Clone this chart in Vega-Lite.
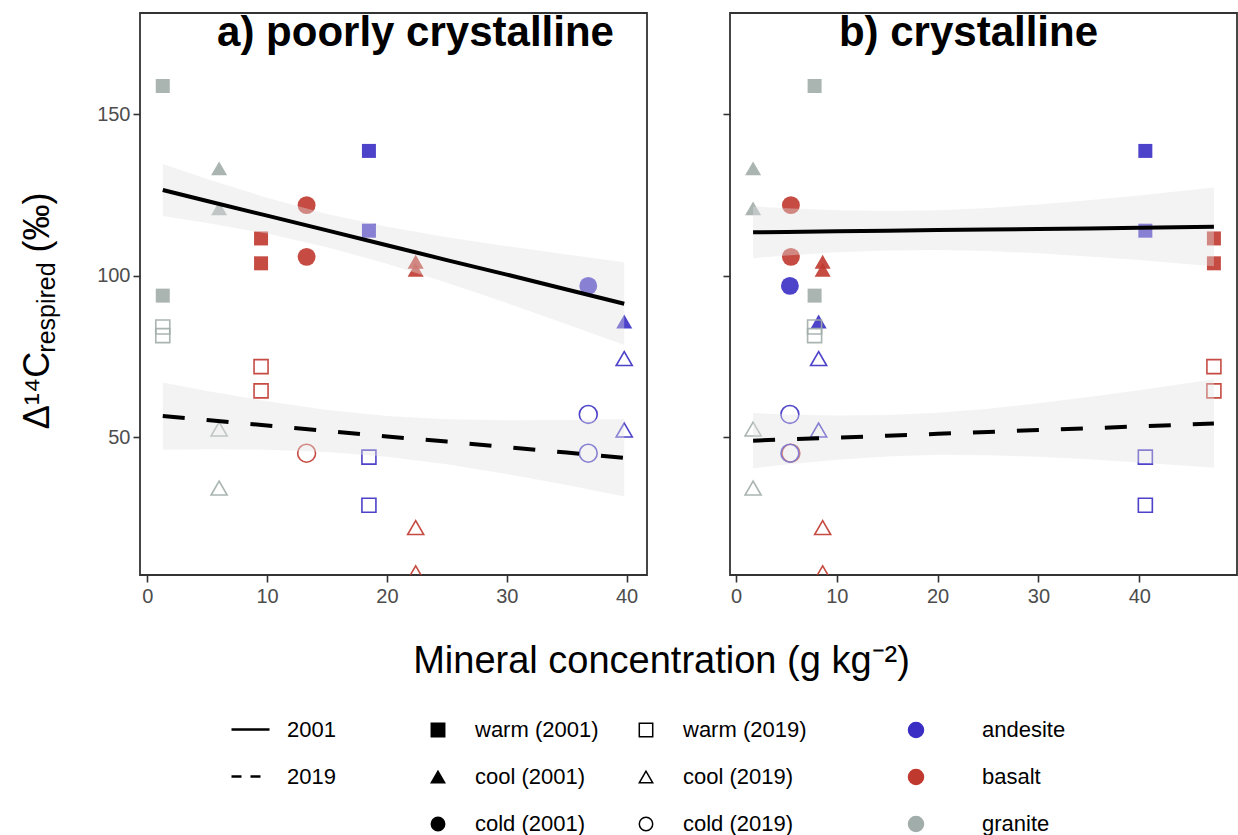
{
  "$schema": "https://vega.github.io/schema/vega-lite/v6.json",
  "padding": {"left": 18, "top": 10, "right": 1, "bottom": 0},
  "background": "white",
  "datasets": {
    "pts": [
      {"parent": "granite", "climate": "warm", "year": "2001", "sy": "warm (2001)", "pc": 1.3, "cr": 7.8, "d14c": 158.7},
      {"parent": "granite", "climate": "warm", "year": "2001", "sy": "warm (2001)", "pc": 1.3, "cr": 7.8, "d14c": 93.8},
      {"parent": "granite", "climate": "cool", "year": "2001", "sy": "cool (2001)", "pc": 6.0, "cr": 1.7, "d14c": 133.2},
      {"parent": "granite", "climate": "cool", "year": "2001", "sy": "cool (2001)", "pc": 6.0, "cr": 1.7, "d14c": 120.8},
      {"parent": "basalt", "climate": "warm", "year": "2001", "sy": "warm (2001)", "pc": 9.5, "cr": 47.4, "d14c": 111.5},
      {"parent": "basalt", "climate": "warm", "year": "2001", "sy": "warm (2001)", "pc": 9.5, "cr": 47.4, "d14c": 103.8},
      {"parent": "basalt", "climate": "cold", "year": "2001", "sy": "cold (2001)", "pc": 13.3, "cr": 5.45, "d14c": 121.8},
      {"parent": "basalt", "climate": "cold", "year": "2001", "sy": "cold (2001)", "pc": 13.3, "cr": 5.45, "d14c": 105.8},
      {"parent": "andesite", "climate": "warm", "year": "2001", "sy": "warm (2001)", "pc": 18.5, "cr": 40.6, "d14c": 138.6},
      {"parent": "andesite", "climate": "warm", "year": "2001", "sy": "warm (2001)", "pc": 18.5, "cr": 40.6, "d14c": 113.9},
      {"parent": "basalt", "climate": "cool", "year": "2001", "sy": "cool (2001)", "pc": 22.4, "cr": 8.6, "d14c": 104.3},
      {"parent": "basalt", "climate": "cool", "year": "2001", "sy": "cool (2001)", "pc": 22.4, "cr": 8.6, "d14c": 101.8},
      {"parent": "andesite", "climate": "cold", "year": "2001", "sy": "cold (2001)", "pc": 36.8, "cr": 5.35, "d14c": 96.8},
      {"parent": "andesite", "climate": "cool", "year": "2001", "sy": "cool (2001)", "pc": 39.8, "cr": 8.2, "d14c": 85.8},
      {"parent": "granite", "climate": "warm", "year": "2019", "sy": "warm (2019)", "pc": 1.3, "cr": 7.8, "d14c": 84.1},
      {"parent": "granite", "climate": "warm", "year": "2019", "sy": "warm (2019)", "pc": 1.3, "cr": 7.8, "d14c": 81.4},
      {"parent": "granite", "climate": "cool", "year": "2019", "sy": "cool (2019)", "pc": 6.0, "cr": 1.7, "d14c": 52.5},
      {"parent": "granite", "climate": "cool", "year": "2019", "sy": "cool (2019)", "pc": 6.0, "cr": 1.7, "d14c": 34.2},
      {"parent": "basalt", "climate": "warm", "year": "2019", "sy": "warm (2019)", "pc": 9.5, "cr": 47.4, "d14c": 71.8},
      {"parent": "basalt", "climate": "warm", "year": "2019", "sy": "warm (2019)", "pc": 9.5, "cr": 47.4, "d14c": 64.3},
      {"parent": "basalt", "climate": "cold", "year": "2019", "sy": "cold (2019)", "pc": 13.3, "cr": 5.45, "d14c": 45.0},
      {"parent": "andesite", "climate": "warm", "year": "2019", "sy": "warm (2019)", "pc": 18.5, "cr": 40.6, "d14c": 43.8},
      {"parent": "andesite", "climate": "warm", "year": "2019", "sy": "warm (2019)", "pc": 18.5, "cr": 40.6, "d14c": 28.9},
      {"parent": "basalt", "climate": "cool", "year": "2019", "sy": "cool (2019)", "pc": 22.4, "cr": 8.6, "d14c": 22.0},
      {"parent": "basalt", "climate": "cool", "year": "2019", "sy": "cool (2019)", "pc": 22.4, "cr": 8.6, "d14c": 8.0},
      {"parent": "andesite", "climate": "cold", "year": "2019", "sy": "cold (2019)", "pc": 36.8, "cr": 5.35, "d14c": 57.0},
      {"parent": "andesite", "climate": "cold", "year": "2019", "sy": "cold (2019)", "pc": 36.8, "cr": 5.35, "d14c": 45.0},
      {"parent": "andesite", "climate": "cool", "year": "2019", "sy": "cool (2019)", "pc": 39.8, "cr": 8.2, "d14c": 74.3},
      {"parent": "andesite", "climate": "cool", "year": "2019", "sy": "cool (2019)", "pc": 39.8, "cr": 8.2, "d14c": 52.2}
    ],
    "fits": [
      {"panel": "a", "year": "2001", "x": 1.3, "fit": 126.5, "lo": 118.45, "hi": 134.55},
      {"panel": "a", "year": "2001", "x": 5, "fit": 123.1, "lo": 116.3, "hi": 129.9},
      {"panel": "a", "year": "2001", "x": 10, "fit": 118.55, "lo": 113.0, "hi": 124.1},
      {"panel": "a", "year": "2001", "x": 15, "fit": 114.0, "lo": 108.8, "hi": 119.1},
      {"panel": "a", "year": "2001", "x": 20, "fit": 109.4, "lo": 103.7, "hi": 115.1},
      {"panel": "a", "year": "2001", "x": 25, "fit": 104.8, "lo": 97.8, "hi": 111.9},
      {"panel": "a", "year": "2001", "x": 30, "fit": 100.3, "lo": 91.5, "hi": 109.1},
      {"panel": "a", "year": "2001", "x": 35, "fit": 95.7, "lo": 84.9, "hi": 106.5},
      {"panel": "a", "year": "2001", "x": 39.8, "fit": 91.3, "lo": 78.5, "hi": 104.1},
      {"panel": "a", "year": "2019", "x": 1.3, "fit": 56.5, "lo": 46.1, "hi": 66.9},
      {"panel": "a", "year": "2019", "x": 5, "fit": 55.3, "lo": 46.2, "hi": 64.3},
      {"panel": "a", "year": "2019", "x": 10, "fit": 53.6, "lo": 46.1, "hi": 61.1},
      {"panel": "a", "year": "2019", "x": 15, "fit": 51.9, "lo": 45.4, "hi": 58.4},
      {"panel": "a", "year": "2019", "x": 20, "fit": 50.2, "lo": 43.9, "hi": 56.5},
      {"panel": "a", "year": "2019", "x": 25, "fit": 48.6, "lo": 41.6, "hi": 55.5},
      {"panel": "a", "year": "2019", "x": 30, "fit": 46.9, "lo": 38.6, "hi": 55.2},
      {"panel": "a", "year": "2019", "x": 35, "fit": 45.2, "lo": 35.2, "hi": 55.3},
      {"panel": "a", "year": "2019", "x": 39.8, "fit": 43.6, "lo": 31.6, "hi": 55.6},
      {"panel": "b", "year": "2001", "x": 1.7, "fit": 113.4, "lo": 105.4, "hi": 121.4},
      {"panel": "b", "year": "2001", "x": 5, "fit": 113.5, "lo": 106.2, "hi": 120.85},
      {"panel": "b", "year": "2001", "x": 10, "fit": 113.7, "lo": 107.2, "hi": 120.2},
      {"panel": "b", "year": "2001", "x": 15, "fit": 113.9, "lo": 107.8, "hi": 120.0},
      {"panel": "b", "year": "2001", "x": 20, "fit": 114.1, "lo": 107.9, "hi": 120.2},
      {"panel": "b", "year": "2001", "x": 25, "fit": 114.3, "lo": 107.6, "hi": 120.9},
      {"panel": "b", "year": "2001", "x": 30, "fit": 114.4, "lo": 106.9, "hi": 122.0},
      {"panel": "b", "year": "2001", "x": 35, "fit": 114.6, "lo": 105.9, "hi": 123.3},
      {"panel": "b", "year": "2001", "x": 40, "fit": 114.8, "lo": 104.8, "hi": 124.8},
      {"panel": "b", "year": "2001", "x": 47.4, "fit": 115.1, "lo": 102.9, "hi": 127.3},
      {"panel": "b", "year": "2019", "x": 1.7, "fit": 48.9, "lo": 40.35, "hi": 57.45},
      {"panel": "b", "year": "2019", "x": 5, "fit": 49.3, "lo": 41.5, "hi": 57.0},
      {"panel": "b", "year": "2019", "x": 10, "fit": 49.85, "lo": 43.0, "hi": 56.7},
      {"panel": "b", "year": "2019", "x": 15, "fit": 50.4, "lo": 44.0, "hi": 56.8},
      {"panel": "b", "year": "2019", "x": 20, "fit": 51.0, "lo": 44.5, "hi": 57.5},
      {"panel": "b", "year": "2019", "x": 25, "fit": 51.6, "lo": 44.4, "hi": 58.8},
      {"panel": "b", "year": "2019", "x": 30, "fit": 52.2, "lo": 43.9, "hi": 60.45},
      {"panel": "b", "year": "2019", "x": 35, "fit": 52.75, "lo": 43.1, "hi": 62.4},
      {"panel": "b", "year": "2019", "x": 40, "fit": 53.3, "lo": 42.15, "hi": 64.5},
      {"panel": "b", "year": "2019", "x": 47.4, "fit": 54.2, "lo": 40.5, "hi": 67.9}
    ]
  },
  "hconcat": [
    {
      "width": 507,
      "height": 562,
      "resolve": {"axis": {"x": "independent", "y": "independent"}},
      "layer": [
        {
          "data": {"name": "pts"},
          "mark": {"type": "point", "filled": true, "opacity": 0, "strokeWidth": 1.5},
          "encoding": {
            "x": {"field": "pc", "type": "quantitative", "axis": null},
            "y": {"field": "d14c", "type": "quantitative", "axis": null},
            "shape": {"field": "sy", "type": "nominal",
                      "scale": {"domain": ["warm (2001)", "cool (2001)", "cold (2001)", "warm (2019)", "cool (2019)", "cold (2019)"], "range": ["square", "triangle-up", "circle", "square", "triangle-up", "circle"]},
                      "legend": {"orient": "none", "legendX": 287, "legendY": 706, "columns": 2, "title": null, "labelOffset": 26, "symbolSize": 180, "columnPadding": 36, "rowPadding": 25, "symbolOpacity": 1, "symbolStrokeWidth": 1.5}},
            "fill": {"field": "sy", "type": "nominal",
                     "scale": {"domain": ["warm (2001)", "cool (2001)", "cold (2001)", "warm (2019)", "cool (2019)", "cold (2019)"], "range": ["black", "black", "black", "white", "white", "white"]},
                     "legend": {"orient": "none", "legendX": 287, "legendY": 706, "columns": 2, "title": null, "labelOffset": 26, "symbolSize": 180, "columnPadding": 36, "rowPadding": 25, "symbolOpacity": 1, "symbolStrokeWidth": 1.5}},
            "stroke": {"field": "sy", "type": "nominal",
                       "scale": {"domain": ["warm (2001)", "cool (2001)", "cold (2001)", "warm (2019)", "cool (2019)", "cold (2019)"], "range": ["black", "black", "black", "black", "black", "black"]},
                       "legend": {"orient": "none", "legendX": 287, "legendY": 706, "columns": 2, "title": null, "labelOffset": 26, "symbolSize": 180, "columnPadding": 36, "rowPadding": 25, "symbolOpacity": 1, "symbolStrokeWidth": 1.5}}
          }
        },
        {
          "data": {"name": "pts"},
          "transform": [{"filter": "datum.year == '2001'"}],
          "mark": {"type": "point", "filled": true, "opacity": 0.9, "clip": true},
          "encoding": {
            "x": {"field": "pc", "type": "quantitative", "scale": {"domain": [-0.6, 41.7], "nice": false, "zero": false},
                  "axis": {"orient": "bottom", "values": [0, 10, 20, 30, 40], "title": "Mineral concentration (g kg⁻²)", "titleFontSize": 38, "titleX": 521, "titleY": 97, "titleBaseline": "alphabetic", "titleAlign": "center"}},
            "y": {"field": "d14c", "type": "quantitative", "scale": {"domain": [7.3, 181.3], "nice": false, "zero": false},
                  "axis": {"orient": "left", "values": [50, 100, 150], "title": "Δ¹⁴C", "titleX": -92, "titleY": 377, "titleAngle": 270, "titleBaseline": "alphabetic", "titleAlign": "center"}},
            "shape": {"field": "sy", "type": "nominal"},
            "color": {"field": "parent", "type": "nominal",
                      "scale": {"domain": ["andesite", "basalt", "granite"], "range": ["#3a2ec4", "#c0392f", "#a1adaa"]},
                      "legend": {"orient": "none", "legendX": 765, "legendY": 706, "title": null, "labelOffset": 55, "symbolSize": 225, "rowPadding": 25, "symbolOpacity": 1, "symbolType": "circle"}},
            "size": {"field": "climate", "type": "nominal", "scale": {"domain": ["warm", "cool", "cold"], "range": [196, 320, 180]}, "legend": null}
          }
        },
        {
          "data": {"name": "pts"},
          "transform": [{"filter": "datum.year == '2019'"}],
          "mark": {"type": "point", "filled": false, "opacity": 0.9, "strokeWidth": 1.6, "clip": true},
          "encoding": {
            "x": {"field": "pc", "type": "quantitative",
                  "axis": {"orient": "top", "labels": false, "ticks": false, "domain": false, "title": "a) poorly crystalline", "titleFontSize": 42, "titleFontWeight": "bold", "titleX": 275, "titleY": 32, "titleBaseline": "alphabetic", "titleAlign": "center"}},
            "y": {"field": "d14c", "type": "quantitative",
                  "axis": {"orient": "left", "labels": false, "ticks": false, "domain": false, "title": "respired", "titleFontSize": 25, "titleX": -86, "titleY": 294, "titleAngle": 270, "titleBaseline": "alphabetic", "titleAlign": "center"}},
            "shape": {"field": "sy", "type": "nominal"},
            "color": {"field": "parent", "type": "nominal"},
            "size": {"field": "climate", "type": "nominal", "legend": null}
          }
        },
        {
          "data": {"name": "fits"},
          "transform": [{"filter": "datum.panel == 'a'"}],
          "mark": {"type": "area", "color": "#e0e0e0", "opacity": 0.4},
          "encoding": {
            "x": {"field": "x", "type": "quantitative", "axis": null},
            "y": {"field": "lo", "type": "quantitative",
                  "axis": {"orient": "left", "labels": false, "ticks": false, "domain": false, "title": "(‰)", "titleX": -92, "titleY": 209, "titleAngle": 270, "titleBaseline": "alphabetic", "titleAlign": "center"}},
            "y2": {"field": "hi"},
            "detail": {"field": "year", "type": "nominal"}
          }
        },
        {
          "data": {"name": "fits"},
          "transform": [{"filter": "datum.panel == 'a' && datum.year == '2001'"}],
          "mark": {"type": "line", "color": "black", "strokeWidth": 4},
          "encoding": {
            "x": {"field": "x", "type": "quantitative", "axis": null},
            "y": {"field": "fit", "type": "quantitative", "axis": null}
          }
        },
        {
          "data": {"name": "fits"},
          "transform": [{"filter": "datum.panel == 'a' && datum.year == '2019'"}],
          "mark": {"type": "line", "color": "black", "strokeWidth": 4, "strokeDash": [22, 22]},
          "encoding": {
            "x": {"field": "x", "type": "quantitative", "axis": null},
            "y": {"field": "fit", "type": "quantitative", "axis": null}
          }
        },
        {
          "data": {"name": "fits"},
          "transform": [{"filter": "datum.panel == 'a'"}],
          "mark": {"type": "line", "color": "black", "strokeWidth": 2.5, "opacity": 0},
          "encoding": {
            "x": {"field": "x", "type": "quantitative", "axis": null},
            "y": {"field": "fit", "type": "quantitative", "axis": null},
            "strokeDash": {"field": "year", "type": "nominal",
                           "scale": {"domain": ["2001", "2019"], "range": [[1, 0], [10, 9]]},
                           "legend": {"orient": "none", "legendX": 90, "legendY": 696, "title": null, "labelOffset": 16, "symbolType": "stroke", "symbolSize": 1444, "symbolStrokeWidth": 2.5, "symbolStrokeColor": "black", "rowPadding": 15, "symbolOpacity": 1}}
          }
        }
      ]
    },
    {
      "width": 507,
      "height": 562,
      "resolve": {"axis": {"x": "independent", "y": "independent"}},
      "layer": [
        {
          "data": {"name": "pts"},
          "transform": [{"filter": "datum.year == '2001'"}],
          "mark": {"type": "point", "filled": true, "opacity": 0.9, "clip": true},
          "encoding": {
            "x": {"field": "cr", "type": "quantitative", "scale": {"domain": [-0.59, 49.69], "nice": false, "zero": false},
                  "axis": {"orient": "bottom", "values": [0, 10, 20, 30, 40], "title": null}},
            "y": {"field": "d14c", "type": "quantitative", "scale": {"domain": [7.3, 181.3], "nice": false, "zero": false},
                  "axis": {"orient": "left", "values": [50, 100, 150], "labels": false, "title": null}},
            "shape": {"field": "sy", "type": "nominal"},
            "color": {"field": "parent", "type": "nominal"},
            "size": {"field": "climate", "type": "nominal", "legend": null}
          }
        },
        {
          "data": {"name": "pts"},
          "transform": [{"filter": "datum.year == '2019'"}],
          "mark": {"type": "point", "filled": false, "opacity": 0.9, "strokeWidth": 1.6, "clip": true},
          "encoding": {
            "x": {"field": "cr", "type": "quantitative",
                  "axis": {"orient": "top", "labels": false, "ticks": false, "domain": false, "title": "b) crystalline", "titleFontSize": 42, "titleFontWeight": "bold", "titleX": 238, "titleY": 32, "titleBaseline": "alphabetic", "titleAlign": "center"}},
            "y": {"field": "d14c", "type": "quantitative", "axis": null},
            "shape": {"field": "sy", "type": "nominal"},
            "color": {"field": "parent", "type": "nominal"},
            "size": {"field": "climate", "type": "nominal", "legend": null}
          }
        },
        {
          "data": {"name": "fits"},
          "transform": [{"filter": "datum.panel == 'b'"}],
          "mark": {"type": "area", "color": "#e0e0e0", "opacity": 0.4},
          "encoding": {
            "x": {"field": "x", "type": "quantitative", "axis": null},
            "y": {"field": "lo", "type": "quantitative", "axis": null},
            "y2": {"field": "hi"},
            "detail": {"field": "year", "type": "nominal"}
          }
        },
        {
          "data": {"name": "fits"},
          "transform": [{"filter": "datum.panel == 'b' && datum.year == '2001'"}],
          "mark": {"type": "line", "color": "black", "strokeWidth": 4},
          "encoding": {
            "x": {"field": "x", "type": "quantitative", "axis": null},
            "y": {"field": "fit", "type": "quantitative", "axis": null}
          }
        },
        {
          "data": {"name": "fits"},
          "transform": [{"filter": "datum.panel == 'b' && datum.year == '2019'"}],
          "mark": {"type": "line", "color": "black", "strokeWidth": 4, "strokeDash": [22, 22]},
          "encoding": {
            "x": {"field": "x", "type": "quantitative", "axis": null},
            "y": {"field": "fit", "type": "quantitative", "axis": null}
          }
        }
      ]
    }
  ],
  "spacing": 83,
  "bounds": "flush",
  "resolve": {
    "scale": {"x": "independent", "y": "independent", "color": "shared", "shape": "shared", "fill": "shared", "stroke": "shared", "size": "shared", "strokeDash": "shared"},
    "legend": {"color": "shared", "shape": "shared", "fill": "shared", "stroke": "shared", "size": "shared", "strokeDash": "shared"}
  },
  "config": {
    "font": "Liberation Sans",
    "view": {"stroke": "#333333", "strokeWidth": 1.8},
    "axis": {"domain": false, "grid": false, "tickColor": "#333333", "tickWidth": 1.6, "tickSize": 7, "labelColor": "#4d4d4d", "labelFontSize": 20, "labelFont": "Liberation Sans", "titleFont": "Liberation Sans", "titleFontWeight": "normal", "titleFontSize": 36, "titleColor": "black"},
    "axisY": {"labelPadding": 3},
    "axisX": {"labelPadding": 4},
    "legend": {"labelFont": "Liberation Sans", "labelFontSize": 22, "labelColor": "black", "padding": 0, "rowPadding": 25, "symbolOpacity": 1}
  }
}
